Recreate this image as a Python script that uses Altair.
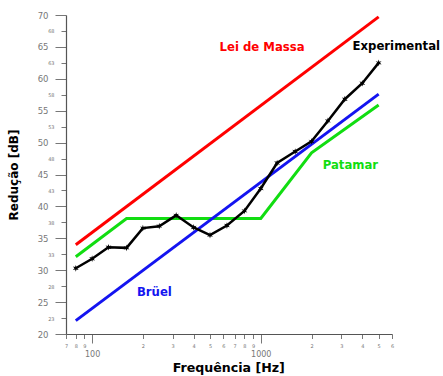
import altair as alt
import pandas as pd

# ---- data ----
freq = [80, 100, 125, 160, 200, 250, 315, 400, 500, 630, 800, 1000,
        1250, 1600, 2000, 2500, 3150, 4000, 5000]
experimental = [30.3, 31.8, 33.6, 33.5, 36.6, 36.9, 38.6, 36.7, 35.5, 37.0,
                39.3, 42.8, 46.8, 48.6, 50.2, 53.4, 56.8, 59.3, 62.5]

lei_freq = [80, 5000]
lei_massa = [34.0, 69.7]

bruel_freq = [80, 5000]
bruel = [22.1, 57.6]

patamar_freq = [80, 160, 1000, 2000, 5000]
patamar = [32.1, 38.1, 38.1, 48.4, 55.9]

label_text = ["Lei de Massa", "Experimental", "Patamar", "Brüel"]
label_f = [1018, 6362, 3400, 234]
label_db = [65.05, 65.1, 46.5, 26.6]
label_color = ["#ff0000", "#000000", "#11dd11", "#1414f0"]

x_ticks = [70, 80, 90, 100, 200, 300, 400, 500, 600, 700, 800, 900,
           1000, 2000, 3000, 4000, 5000, 6000]
y_ticks = [20, 22.5, 25, 27.5, 30, 32.5, 35, 37.5, 40, 42.5, 45, 47.5,
           50, 52.5, 55, 57.5, 60, 62.5, 65, 67.5, 70]

FONT = "DejaVu Sans"

xscale = alt.Scale(type="log", domain=[70, 6000], nice=False)
yscale = alt.Scale(domain=[20, 70], nice=False, zero=False)

major_x = "datum.value == 100 || datum.value == 1000"
major_y = "datum.value % 5 == 0"

xaxis = alt.Axis(
    values=x_ticks, grid=False,
    labelExpr="(datum.value == 100 || datum.value == 1000) ? ('' + datum.value) : substring('' + datum.value, 0, 1)",
    labelFont=FONT, labelColor="#777777",
    labelFontSize={"condition": {"test": major_x, "value": 8}, "value": 5},
    labelPadding={"condition": {"test": major_x, "value": 7}, "value": 5},
    tickSize={"condition": {"test": major_x, "value": 9}, "value": 4.5},
    labelOverlap=False, labelFlush=False, labelBound=False,
    tickColor="#777777", domainColor="#555555", domainWidth=1.2,
    title="Frequência  [Hz]", titleFont=FONT, titleFontSize=12.6,
    titleFontWeight="bold", titleColor="#000000",
    titleX=162.3, titleY=37.3, titleBaseline="alphabetic", titleAlign="center",
)

yaxis = alt.Axis(
    values=y_ticks, grid=False,
    labelExpr="'' + round(datum.value)",
    labelFont=FONT, labelColor="#777777",
    labelFontSize={"condition": {"test": major_y, "value": 8.5}, "value": 5},
    tickSize={"condition": {"test": major_y, "value": 11}, "value": 5},
    labelPadding=7,
    labelOverlap=False, labelFlush=False, labelBound=False,
    tickColor="#777777", domainColor="#555555", domainWidth=1.2,
    title="Redução  [dB]", titleFont=FONT, titleFontSize=12,
    titleFontWeight="bold", titleColor="#000000",
    titleX=-48.5, titleY=159.5, titleAngle=-90,
    titleBaseline="alphabetic", titleAlign="center",
)

df_lei = pd.DataFrame({"f": lei_freq, "dB": lei_massa})
df_bru = pd.DataFrame({"f": bruel_freq, "dB": bruel})
df_pat = pd.DataFrame({"f": patamar_freq, "dB": patamar})
df_exp = pd.DataFrame({"f": freq, "dB": experimental})
df_lab = pd.DataFrame({"text": label_text, "f": label_f, "dB": label_db,
                       "color": label_color})

X = alt.X("f:Q", scale=xscale, axis=xaxis)
Y = alt.Y("dB:Q", scale=yscale, axis=yaxis)

lei_line = alt.Chart(df_lei).mark_line(color="#ff0000", strokeWidth=3).encode(x=X, y=Y)
pat_line = alt.Chart(df_pat).mark_line(color="#11dd11", strokeWidth=3).encode(x=X, y=Y)
bru_line = alt.Chart(df_bru).mark_line(color="#1414f0", strokeWidth=3).encode(x=X, y=Y)
exp_line = alt.Chart(df_exp).mark_line(color="#000000", strokeWidth=2.5).encode(x=X, y=Y)

star = ("M0,-1L0.2,-0.35L0.87,-0.5L0.4,0L0.87,0.5L0.2,0.35L0,1L-0.2,0.35"
        "L-0.87,0.5L-0.4,0L-0.87,-0.5L-0.2,-0.35Z")
exp_pts = alt.Chart(df_exp).mark_point(
    shape=star, filled=True, color="#000000", size=45, opacity=1
).encode(x=X, y=Y)

labels = alt.Chart(df_lab).mark_text(
    font=FONT, fontSize=11.7, fontWeight="bold", baseline="middle", align="center"
).encode(
    x=X,
    y=Y,
    text="text:N",
    color=alt.Color("color:N", scale=None),
)

chart = alt.layer(lei_line, pat_line, bru_line, exp_line, exp_pts, labels).properties(
    width=326, height=319,
    autosize=alt.AutoSizeParams(type="none"),
    padding={"left": 66, "top": 15, "right": 51, "bottom": 42},
    background="#ffffff",
).configure_view(strokeWidth=0)

chart.save("out.html", embed_options={"renderer": "svg", "actions": False})
